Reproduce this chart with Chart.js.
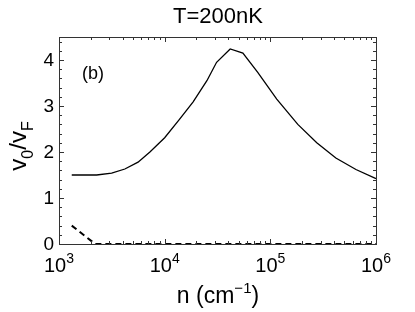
<!DOCTYPE html>
<html>
<head>
<meta charset="utf-8">
<script src="https://cdn.jsdelivr.net/npm/chart.js@4.4.1/dist/chart.umd.min.js"></script>
<style>
  html, body { margin: 0; padding: 0; background: #fff; }
  #wrap { width: 415px; height: 312px; position: relative; }
</style>
</head>
<body>
<div id="wrap"><canvas id="chart"></canvas></div>
<script>
// values
const nSolid = [1320, 2270, 3150, 4200, 5600, 7250, 10000, 13800, 18600, 25100, 31000, 41700, 55000, 76000, 115000, 182000, 275000, 417000, 646000, 1000000];
const vSolid = [1.5, 1.5, 1.54, 1.63, 1.78, 2.0, 2.31, 2.71, 3.09, 3.55, 3.95, 4.24, 4.15, 3.73, 3.15, 2.6, 2.2, 1.87, 1.62, 1.42];
const nDashed = [1320, 2200, 5000, 10000, 100000, 1000000];
const vDashed = [0.4, 0, 0, 0, 0, 0];

const xMajor = [3, 4, 5, 6];          // exponents of 10
const yMajor = [0, 1, 2, 3, 4];
const yMinorStep = 0.2;

const FONT = '"Liberation Sans", Arial, sans-serif';

function pts(xs, ys) {
    return xs.map((x, i) => ({ x: x, y: ys[i] }));
}

// draws several text pieces in a row; each piece: [text, size, baselineShift]
function drawRun(ctx, parts, x, y) {
    parts.forEach(p => {
        ctx.font = p[1] + 'px ' + FONT;
        ctx.fillText(p[0], x, y + p[2]);
        x += ctx.measureText(p[0]).width;
    });
}
function runWidth(ctx, parts) {
    let w = 0;
    parts.forEach(p => { ctx.font = p[1] + 'px ' + FONT; w += ctx.measureText(p[0]).width; });
    return w;
}

const framePlugin = {
    id: 'frame',
    beforeDraw(chart) {
        const ctx = chart.ctx;
        ctx.save();
        ctx.fillStyle = '#fff';
        ctx.fillRect(0, 0, chart.width, chart.height);
        ctx.restore();
    },
    afterDraw(chart) {
        const ctx = chart.ctx;
        const a = chart.chartArea;
        const xs = chart.scales.x, ys = chart.scales.y;
        ctx.save();
        ctx.strokeStyle = '#333';
        ctx.lineWidth = 1;

        // inward ticks, all four sides
        ctx.beginPath();
        for (let e = xMajor[0]; e <= xMajor[xMajor.length - 1]; e++) {
            for (let m = 1; m <= 9; m++) {
                const v = m * Math.pow(10, e);
                if (v > 1e6) break;
                const px = Math.round(xs.getPixelForValue(v)) + 0.5;
                const len = m === 1 ? 5 : 3;
                ctx.moveTo(px, a.bottom); ctx.lineTo(px, a.bottom - len);
                ctx.moveTo(px, a.top); ctx.lineTo(px, a.top + len);
            }
        }
        for (let v = 0; v <= 4.5 + 1e-9; v += yMinorStep) {
            const py = Math.round(ys.getPixelForValue(v)) + 0.5;
            const major = Math.abs(v - Math.round(v)) < 1e-6;
            const len = major ? 5 : 3;
            ctx.moveTo(a.left, py); ctx.lineTo(a.left + len, py);
            ctx.moveTo(a.right, py); ctx.lineTo(a.right - len, py);
        }
        ctx.stroke();
        ctx.strokeRect(Math.round(a.left) + 0.5, Math.round(a.top) + 0.5,
            Math.round(a.right - a.left), Math.round(a.bottom - a.top));

        ctx.fillStyle = '#000';

        // y tick labels
        ctx.textBaseline = 'middle';
        ctx.font = '19px ' + FONT;
        ctx.textAlign = 'right';
        yMajor.forEach(v => {
            ctx.fillText(String(v), a.left - 5, ys.getPixelForValue(v) + 1);
        });

        ctx.textBaseline = 'alphabetic';
        ctx.textAlign = 'left';

        // x tick labels 10^e
        xMajor.forEach(e => {
            const px = xs.getPixelForValue(Math.pow(10, e));
            const parts = [['10', 20, 0], [String(e), 14, -9]];
            const w = runWidth(ctx, parts);
            drawRun(ctx, parts, px - w / 2, a.bottom + 28);
        });

        // x axis title: n (cm^-1)
        const xt = [['n (cm', 23, 0], ['\u22121', 15, -10], [')', 23, 0]];
        drawRun(ctx, xt, 218 - runWidth(ctx, xt) / 2, 303);

        // y axis title: v_0/v_F (rotated)
        ctx.save();
        ctx.translate(26, 146);
        ctx.rotate(-Math.PI / 2);
        const yt = [['v', 24, 0], ['0', 16, 7], ['/v', 24, 0], ['F', 16, 7]];
        drawRun(ctx, yt, -runWidth(ctx, yt) / 2, 0);
        ctx.restore();

        // title and panel label
        ctx.textAlign = 'center';
        ctx.font = '22px ' + FONT;
        ctx.fillText('T=200nK', 218, 23);
        ctx.textAlign = 'left';
        ctx.font = '18px ' + FONT;
        ctx.fillText('(b)', 82, 79);
        ctx.restore();
    }
};

new Chart(document.getElementById('chart'), {
    type: 'line',
    data: {
        datasets: [{
            data: pts(nSolid, vSolid),
            borderColor: '#000',
            borderWidth: 1.3,
            pointRadius: 0,
            tension: 0,
            clip: 4
        }, {
            data: pts(nDashed, vDashed),
            borderColor: '#000',
            borderWidth: 2,
            borderDash: [6, 4],
            pointRadius: 0,
            tension: 0,
            clip: 4
        }]
    },
    options: {
        responsive: true,
        maintainAspectRatio: false,
        animation: false,
        layout: { padding: { left: 59, right: 39, top: 37, bottom: 68 } },
        plugins: { legend: { display: false }, tooltip: { enabled: false } },
        scales: {
            x: { type: 'logarithmic', min: 1000, max: 1000000, display: false },
            y: { type: 'linear', min: 0, max: 4.5, display: false }
        }
    },
    plugins: [framePlugin]
});
</script>
</body>
</html>
